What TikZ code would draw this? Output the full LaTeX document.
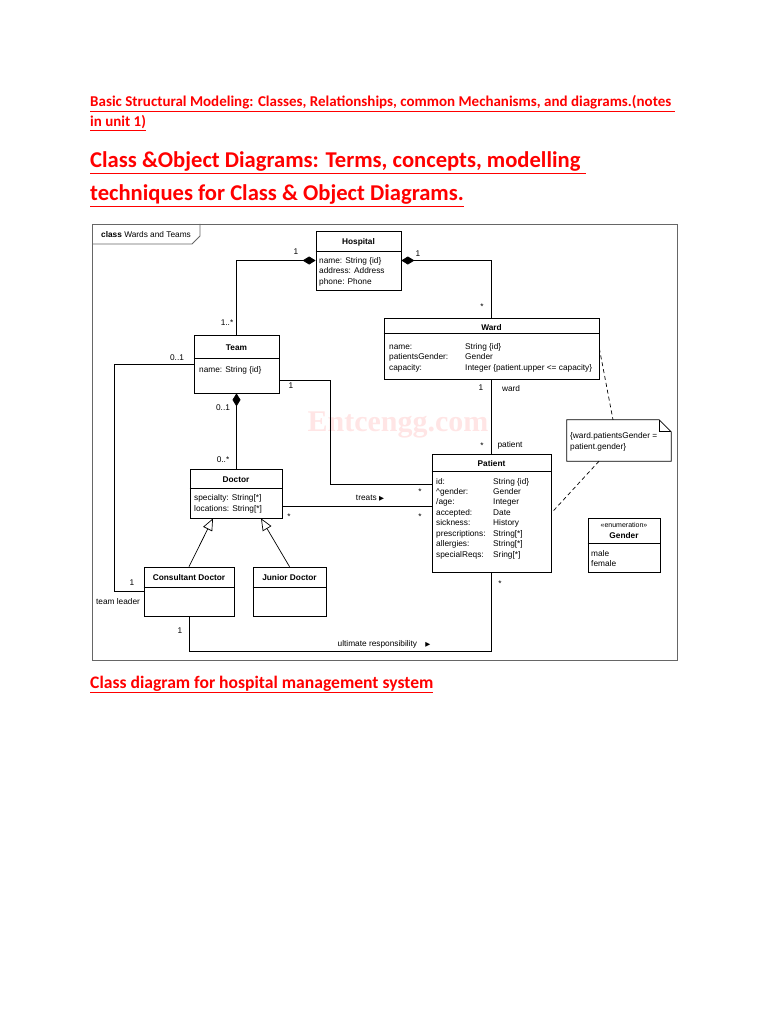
\documentclass[tikz,border=0pt]{standalone}
\usepackage{fontspec}
\setmainfont{Liberation Sans}
\newfontfamily\headfont{Carlito}
\newfontfamily\markfont{Liberation Serif}
\newfontfamily\symfont{DejaVu Sans}
\usetikzlibrary{arrows.meta}

\tikzset{
  umlbox/.style={draw, line width=0.7pt, inner sep=0pt},
  clsname/.style={font=\fontsize{8.3}{10}\selectfont\bfseries, anchor=base, inner sep=0pt},
  attr/.style={font=\fontsize{8.3}{10}\selectfont, anchor=base west, inner sep=0pt},
  mult/.style={font=\fontsize{8.3}{10}\selectfont, anchor=base, inner sep=0pt},
  assoc/.style={line width=0.7pt},
  comp/.style={line width=0.7pt, {Diamond[length=13pt,width=8pt]}-},
  gen/.style={line width=0.7pt, -{Triangle[open,length=12pt,width=10pt]}},
  frame/.style={draw=black!60, line width=0.8pt},
  head/.style={text=red, anchor=base west, inner sep=0pt},
}
\newcommand{\tri}{{\symfont\fontsize{6.5}{6.5}\selectfont ▶}}

\begin{document}
\begin{tikzpicture}[x=1pt,y=-1pt]
    \useasboundingbox (0,0) rectangle (768,1024);

    % Headings
    \node[head, font=\headfont\bfseries\fontsize{15}{18}\selectfont] (head1a) at (90,107) {\underline{Basic Structural Modeling: Classes, Relationships, common Mechanisms, and diagrams.(notes\ }};
    \node[head, font=\headfont\bfseries\fontsize{15}{18}\selectfont] (head1b) at (90,127) {\underline{in unit 1)}};
    \node[head, font=\headfont\bfseries\fontsize{22.6}{26}\selectfont] (head2a) at (90,168) {\underline{Class \&Object Diagrams: Terms, concepts, modelling\ }};
    \node[head, font=\headfont\bfseries\fontsize{22.6}{26}\selectfont] (head2b) at (90,201) {\underline{techniques for Class \& Object Diagrams.}};
    \node[head, font=\headfont\bfseries\fontsize{17.6}{21}\selectfont] (caption) at (90,688) {\underline{Class diagram for hospital management system}};

    % Frame
    \draw[frame] (92,224) rectangle (677,660);
    \draw[frame] (92,244) -- (192,244) -- (200,236) -- (200,224);
    \node[attr] (frametitle) at (101,237.5) {\textbf{class} Wards and Teams};

    % Watermark
    \node[font=\markfont\bfseries\fontsize{30}{30}\selectfont, text=red!10] (watermark) at (398,425) {Entcengg.com};

    % Hospital
    \node[umlbox, minimum width=85pt, minimum height=59pt] (hospital) at (358.5,260.5) {};
    \draw (hospital.west |- 0,251) -- (hospital.east |- 0,251);
    \node[clsname] (hospitalname) at (358.5,244) {Hospital};
    \foreach \txt [count=\i from 0] in {name: String \{id\}, address: Address, phone: Phone}
        \node[attr] (hospitala\i) at (319,263+10.5*\i) {\txt};

    % Team
    \node[umlbox, minimum width=85pt, minimum height=58pt] (team) at (236.5,364) {};
    \draw (team.west |- 0,358) -- (team.east |- 0,358);
    \node[clsname] (teamname) at (236.5,350) {Team};
    \node[attr] (teama0) at (199,372) {name: String \{id\}};

    % Ward
    \node[umlbox, minimum width=215pt, minimum height=61pt] (ward) at (491.5,348.5) {};
    \draw (ward.west |- 0,333) -- (ward.east |- 0,333);
    \node[clsname] (wardname) at (491.5,330) {Ward};
    \foreach \a/\b [count=\i from 0] in {name:/String \{id\}, patientsGender:/Gender, capacity:/Integer \{patient.upper <= capacity\}}
    {
        \node[attr] (warda\i) at (389,349+10.5*\i) {\a};
        \node[attr] (wardb\i) at (465,349+10.5*\i) {\b};
    }

    % Patient
    \node[umlbox, minimum width=119pt, minimum height=118pt] (patient) at (491.5,513) {};
    \draw (patient.west |- 0,471) -- (patient.east |- 0,471);
    \node[clsname] (patientname) at (491.5,466) {Patient};
    \foreach \a/\b [count=\i from 0] in {id:/String \{id\}, \textasciicircum gender:/Gender, {/age:}/Integer, accepted:/Date, sickness:/History, prescriptions:/String[*], allergies:/String[*], specialReqs:/Sring[*]}
    {
        \node[attr] (patienta\i) at (436,484+10.45*\i) {\a};
        \node[attr] (patientb\i) at (493,484+10.45*\i) {\b};
    }

    % Doctor
    \node[umlbox, minimum width=92pt, minimum height=49pt] (doctor) at (236,493.5) {};
    \draw (doctor.west |- 0,488) -- (doctor.east |- 0,488);
    \node[clsname] (doctorname) at (236,482) {Doctor};
    \node[attr] (doctora0) at (194,500) {specialty: String[*]};
    \node[attr] (doctora1) at (194,511) {locations: String[*]};

    % Consultant and Junior Doctor
    \node[umlbox, minimum width=90pt, minimum height=49pt] (consultant) at (189,591.5) {};
    \draw (consultant.west |- 0,587) -- (consultant.east |- 0,587);
    \node[clsname] (consultantname) at (189,580) {Consultant Doctor};
    \node[umlbox, minimum width=73pt, minimum height=49pt] (junior) at (289.5,591.5) {};
    \draw (junior.west |- 0,587) -- (junior.east |- 0,587);
    \node[clsname] (juniorname) at (289.5,580) {Junior Doctor};

    % Gender enumeration
    \node[umlbox, minimum width=72pt, minimum height=54pt] (gender) at (624,545) {};
    \draw (gender.west |- 0,543) -- (gender.east |- 0,543);
    \node[mult, font=\fontsize{7}{8}\selectfont] (genderstereo) at (624,527) {«enumeration»};
    \node[clsname] (gendername) at (624,538.5) {Gender};
    \node[attr] (gendera0) at (591,556) {male};
    \node[attr] (gendera1) at (591,566.5) {female};

    % Constraint note
    \node[minimum width=104pt, minimum height=41pt, inner sep=0pt] (note) at (619,440.5) {};
    \draw[assoc] (note.north west) -- ([xshift=-12pt]note.north east) -- ([yshift=-12pt]note.north east) -- (note.south east) -- (note.south west) -- cycle;
    \draw[assoc] ([xshift=-12pt]note.north east) |- ([yshift=-12pt]note.north east);
    \node[attr] (notea0) at (570,438) {\{ward.patientsGender =};
    \node[attr] (notea1) at (570,449) {patient.gender\}};

    % Compositions
    \draw[comp] (hospital.west) -| (team.north);
    \draw[comp] (hospital.east) -| (ward.north);
    \draw[comp] (team.south) -- (team.south |- doctor.north);

    % Associations
    \draw[assoc] (ward.south) -- (patient.north);
    \coordinate (bend) at (330,484);
    \draw[assoc] ([yshift=-16pt]team.east) -| (bend) -- (bend -| patient.west);
    \coordinate (treatsstart) at ([yshift=-12.5pt]doctor.east);
    \draw[assoc] (treatsstart) -- (treatsstart -| patient.west);
    \draw[assoc] (team.west) -- ++(-79,0) |- (consultant.west);
    \draw[assoc] (consultant.south) -- ++(0,35) -| (patient.south);

    % Generalizations
    \draw[gen] (consultant.north) -- ([xshift=-23pt]doctor.south);
    \draw[gen] (junior.north) -- ([xshift=25pt]doctor.south);

    % Note anchors
    \draw[assoc, dash pattern=on 4pt off 3pt] (ward.east) -- ([xshift=-6pt]note.north);
    \draw[assoc, dash pattern=on 4pt off 3pt] ([xshift=-20pt]note.south) -- (patient.east);

    % Multiplicities and role names
    \node[mult] (m1) at (296,254) {1};
    \node[mult] (m2) at (227,325) {1..*};
    \node[mult] (m3) at (418,256) {1};
    \node[mult] (m4) at (482,309) {*};
    \node[mult] (m5) at (177,360) {0..1};
    \node[mult] (m6) at (291,388) {1};
    \node[mult] (m7) at (223,410) {0..1};
    \node[mult] (m8) at (223,462) {0..*};
    \node[mult] (m9) at (370,500) {treats \tri};
    \node[mult] (m10) at (289,519) {*};
    \node[mult] (m11) at (420,494) {*};
    \node[mult] (m12) at (420,519) {*};
    \node[mult] (m13) at (132,585) {1};
    \node[mult] (m14) at (118,604) {team leader};
    \node[mult] (m15) at (180,633) {1};
    \node[mult] (m16) at (384,646) {ultimate responsibility\quad\tri};
    \node[mult] (m17) at (500,586) {*};
    \node[mult] (m18) at (481,390) {1};
    \node[mult] (m19) at (511,391) {ward};
    \node[mult] (m20) at (482,448) {*};
    \node[mult] (m21) at (510,447) {patient};
\end{tikzpicture}
\end{document}
